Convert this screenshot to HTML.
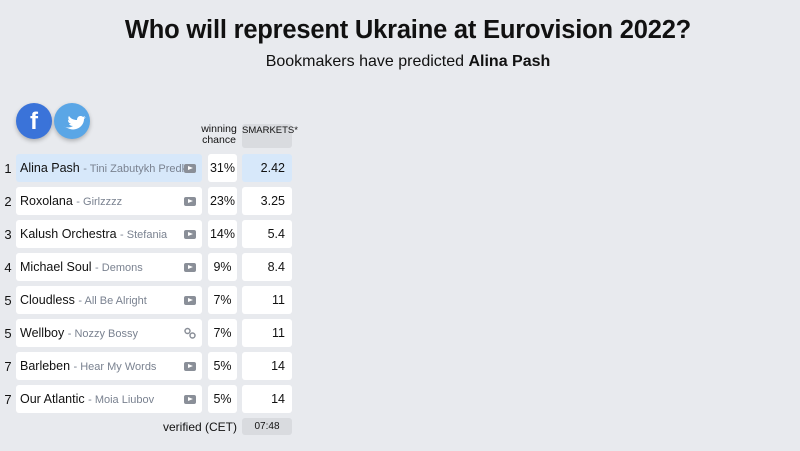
<!DOCTYPE html>
<html><head><style>
body{margin:0;width:800px;height:451px;background:#e8eaee;font-family:"Liberation Sans",sans-serif;position:relative;overflow:hidden;color:#111}
.a{position:absolute}
h1{position:absolute;top:16px;left:0;width:816px;text-align:center;margin:0;font-size:25.5px;font-weight:bold;letter-spacing:-0.2px}
.sub{top:53px;left:0;width:816px;text-align:center;font-size:16px}
.rk{left:1px;width:14px;text-align:center;font-size:13px}
.nm{left:16px;width:186px;height:28px;background:#fff;border-radius:3px;font-size:12.5px;line-height:28px;box-sizing:border-box;padding-left:4px;white-space:nowrap;overflow:hidden}
.nm span{color:#7a8290;font-size:11px}
.ch{left:208px;width:29px;height:28px;background:#fff;border-radius:3px;font-size:12.5px;line-height:28px;text-align:center}
.od{left:242px;width:50px;height:28px;background:#fff;border-radius:3px;font-size:12.5px;line-height:28px;text-align:right;box-sizing:border-box;padding-right:7px}
.ic{position:absolute;right:6px;top:10px;width:12px;height:9px;background:#8a8f98;border-radius:2px}
.ic:after{content:"";position:absolute;left:4px;top:2px;border-left:5px solid #fff;border-top:2.5px solid transparent;border-bottom:2.5px solid transparent}
.hl{background:#d7e8fa}
</style></head><body>
<h1>Who will represent Ukraine at Eurovision 2022?</h1>
<div class="a sub">Bookmakers have predicted <b>Alina Pash</b></div>
<div class="a" style="left:16px;top:103px;width:36px;height:36px;border-radius:50%;background:#3a73d9;box-shadow:0 2px 4px rgba(0,0,0,.25);color:#fff;font-weight:bold;font-size:24px;text-align:center;line-height:38px">f</div>
<div class="a" style="left:54px;top:103px;width:36px;height:36px;border-radius:50%;background:#5aa6e6;box-shadow:0 2px 4px rgba(0,0,0,.25)">
<svg width="36" height="36" viewBox="0 0 36 36"><path d="M9 23c3 2 7 2 10 0-3 0-4-2-4-2h2c-2-1-3-2-3-4 1 0 1 1 2 1-2-1-2-4-1-5 2 3 5 4 8 4 0-4 4-5 6-3l2-1-1 2 2-1-2 2c0 7-7 12-14 10-3-1-5-2-7-3z" fill="#fff"/></svg></div>
<div class="a" style="left:198px;top:124px;width:42px;text-align:center;font-size:10.5px;line-height:11px">winning<br>chance</div>
<div class="a" style="left:242px;top:124px;width:50px;height:24px;background:#d9dbdf;border-radius:3px;font-size:9.5px;text-align:center;line-height:14px">SMARKETS*</div>
<div id="rows"></div>
<div class="a" style="left:150px;top:420px;width:87px;text-align:right;font-size:12px">verified (CET)</div>
<div class="a" style="left:242px;top:418px;width:50px;height:17px;background:#d9dbdf;border-radius:3px;font-size:10px;text-align:center;line-height:17px">07:48</div>
<script>
var d=[["1","Alina Pash","Tini Zabutykh Predkiv","31%","2.42",1],["2","Roxolana","Girlzzzz","23%","3.25"],["3","Kalush Orchestra","Stefania","14%","5.4"],["4","Michael Soul","Demons","9%","8.4"],["5","Cloudless","All Be Alright","7%","11"],["5","Wellboy","Nozzy Bossy","7%","11",0,1],["7","Barleben","Hear My Words","5%","14"],["7","Our Atlantic","Moia Liubov","5%","14"]];
var h="";d.forEach(function(r,i){var t=154+i*33;var hl=r[5]?" hl":"";
var ic=r[6]?'<svg style="position:absolute;right:6px;top:8px" width="12" height="12" viewBox="0 0 12 12"><circle cx="3.5" cy="4" r="2.5" fill="none" stroke="#8a8f98" stroke-width="1.5"/><circle cx="8.5" cy="8.5" r="2.5" fill="none" stroke="#8a8f98" stroke-width="1.5"/></svg>':'<div class="ic"></div>';
h+='<div class="a rk" style="top:'+(t+7)+'px">'+r[0]+'</div><div class="a nm'+hl+'" style="top:'+t+'px">'+r[1]+' <span>- '+r[2]+'</span>'+ic+'</div><div class="a ch" style="top:'+t+'px">'+r[3]+'</div><div class="a od'+hl+'" style="top:'+t+'px">'+r[4]+'</div>';});
document.getElementById("rows").innerHTML=h;
</script>
</body></html>
